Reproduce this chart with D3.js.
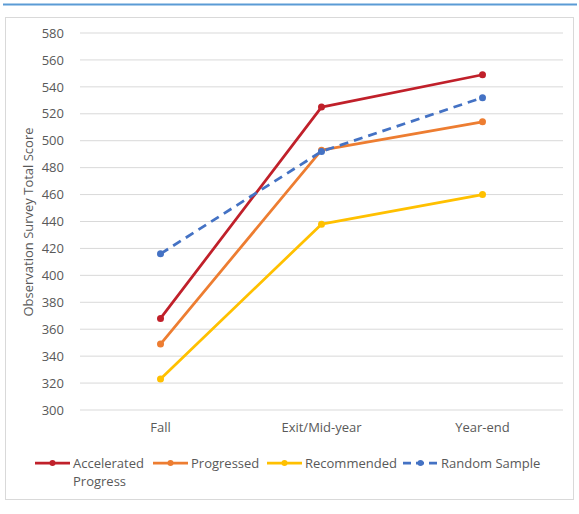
<!DOCTYPE html>
<html><head><meta charset="utf-8">
<script src="https://cdn.jsdelivr.net/npm/d3@7"></script>
<style>body{margin:0;background:#fff;}svg{display:block;font-family:"Open Sans",sans-serif;}</style>
</head><body>
<svg id="c" width="579" height="514"></svg>
<script>
const categories = ["Fall", "Exit/Mid-year", "Year-end"];
const seriesNames = ["Accelerated Progress", "Progressed", "Recommended", "Random Sample"];
const accelerated = [368, 525, 549];
const progressed = [349, 493, 514];
const recommended = [323, 438, 460];
const randomSample = [416, 492, 532];
const yTicks = [300,320,340,360,380,400,420,440,460,480,500,520,540,560,580];
const colors = ["#C0202A", "#ED7D31", "#FFC000", "#4472C4"];
const FONT = "'Open Sans',sans-serif";
const FS = 13;

const svg = d3.select("#c");
// top rule
svg.append("line").attr("x1",3).attr("x2",577).attr("y1",4.5).attr("y2",4.5).attr("stroke","#5B9BD5").attr("stroke-width",2);
// chart border
svg.append("rect").attr("x",5.5).attr("y",17.5).attr("width",568).attr("height",482).attr("fill","#fff").attr("stroke","#D9D9D9").attr("stroke-width",1);

const x = d3.scaleBand().domain(categories).range([80,563]);
const y = d3.scaleLinear().domain([300,580]).range([410,33]);

const grid = svg.append("g");
yTicks.forEach(t=>{
  grid.append("line").attr("x1",80).attr("x2",563).attr("y1",y(t)).attr("y2",y(t)).attr("stroke","#D9D9D9").attr("stroke-width",1);
});
const yAxis = d3.axisLeft(y).tickValues(yTicks).tickSize(0).tickPadding(0);
const ya = svg.append("g").attr("transform","translate(64,0)").call(yAxis);
ya.select(".domain").remove();
ya.selectAll("text").attr("fill","#595959").attr("font-size",FS).attr("font-family",FONT);

const xAxis = d3.axisBottom(x).tickSize(0).tickPadding(0);
const xa = svg.append("g").attr("transform","translate(0,423)").call(xAxis);
xa.select(".domain").remove();
xa.selectAll("text").attr("fill","#595959").attr("font-size",FS).attr("font-family",FONT);

svg.append("text").attr("transform","translate(33,222) rotate(-90)").attr("text-anchor","middle")
  .attr("fill","#595959").attr("font-size",FS).attr("font-family",FONT).text("Observation Survey Total Score");

const data = [accelerated, progressed, recommended, randomSample];
const line = d3.line().x((d,i)=>x(categories[i])+x.bandwidth()/2).y(d=>y(d));
data.forEach((vals,k)=>{
  const g = svg.append("g");
  g.append("path").attr("d",line(vals)).attr("fill","none").attr("stroke",colors[k]).attr("stroke-width",2.75)
    .attr("stroke-dasharray", k===3 ? "9,6" : null).attr("stroke-linejoin","round");
  g.selectAll("circle").data(vals).join("circle")
    .attr("cx",(d,i)=>x(categories[i])+x.bandwidth()/2).attr("cy",d=>y(d)).attr("r",3.5).attr("fill",colors[k]);
});

// legend
const legX = [35, 153, 267, 403];
const leg = svg.append("g");
seriesNames.forEach((n,k)=>{
  const lx = legX[k], ly = 463;
  leg.append("line").attr("x1",lx).attr("x2",lx+35).attr("y1",ly).attr("y2",ly).attr("stroke",colors[k]).attr("stroke-width",2.75)
    .attr("stroke-dasharray", k===3 ? "8,5" : null);
  leg.append("circle").attr("cx",lx+17.5).attr("cy",ly).attr("r",3).attr("fill",colors[k]);
  const t = leg.append("text").attr("x",lx+38).attr("y",ly+4.5).attr("fill","#595959").attr("font-size",FS).attr("font-family",FONT);
  if (k===0) {
    t.append("tspan").attr("x",lx+38).text("Accelerated");
    t.append("tspan").attr("x",lx+38).attr("dy",18).text("Progress");
  } else t.text(n);
});
</script>
</body></html>
